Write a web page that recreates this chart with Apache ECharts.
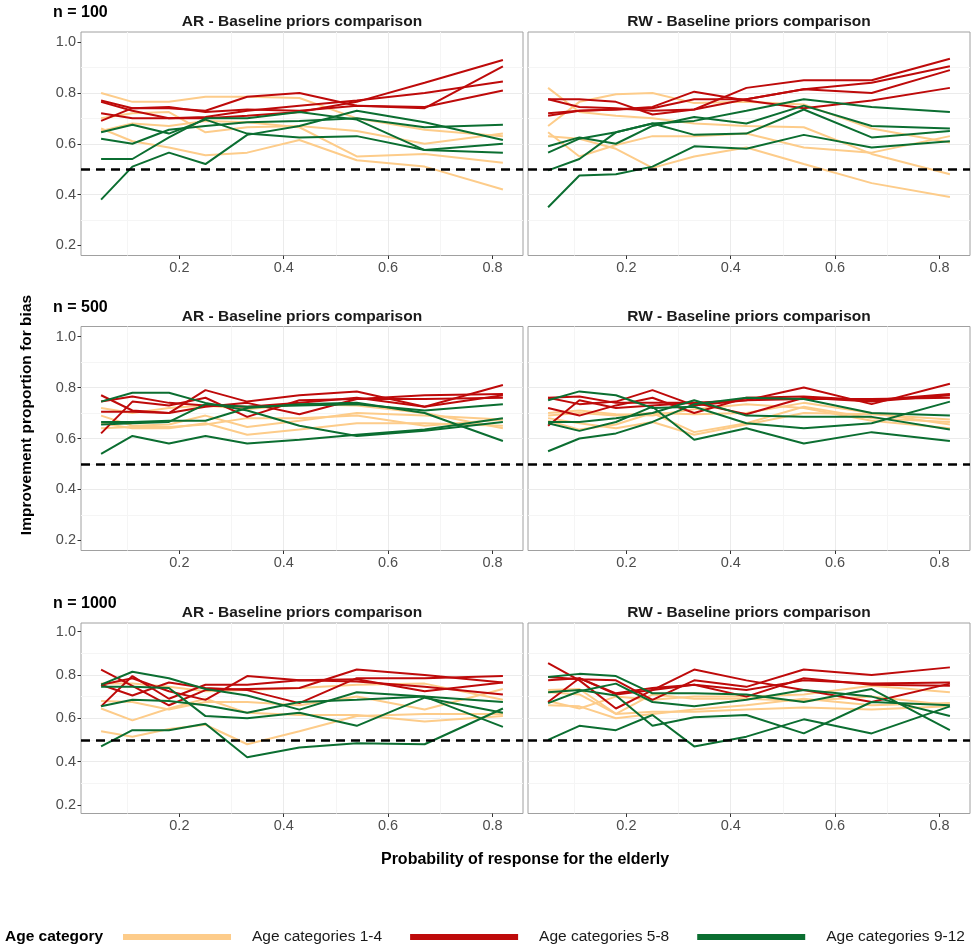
<!DOCTYPE html>
<html>
<head>
<meta charset="utf-8">
<title>Improvement proportion for bias</title>
<script src="https://cdn.jsdelivr.net/npm/echarts@6.0.0/dist/echarts.min.js"></script>
<style>
  html, body { margin: 0; padding: 0; background: #fff; }
  #chart { width: 975px; height: 948px; }
</style>
</head>
<body>
<div id="chart"></div>
<script>
// x positions: probability of response for the elderly
const xProb = [0.05, 0.11, 0.18, 0.25, 0.33, 0.43, 0.54, 0.67, 0.82];
const xTickValues = [0.2, 0.4, 0.6, 0.8];
const yTickValues = [0.2, 0.4, 0.6, 0.8, 1.0];
const refLevel = 0.5;

const groupNames = ['Age categories 1-4', 'Age categories 5-8', 'Age categories 9-12'];
const groupColors = ['#FDCC8A', '#BE0A0A', '#0B6E31'];
const rowLabels = ['n = 100', 'n = 500', 'n = 1000'];
const colTitles = ['AR - Baseline priors comparison', 'RW - Baseline priors comparison'];

// AR, n = 100
const ar100_age1to4 = [
    [0.80, 0.765, 0.765, 0.785, 0.785, 0.78, 0.70, 0.655, 0.63],
    [0.66, 0.61, 0.585, 0.555, 0.565, 0.615, 0.535, 0.51, 0.42],
    [0.70, 0.72, 0.725, 0.645, 0.665, 0.67, 0.65, 0.60, 0.64],
    [0.65, 0.68, 0.67, 0.69, 0.685, 0.665, 0.55, 0.56, 0.525]
];
const ar100_age5to8 = [
    [0.77, 0.74, 0.74, 0.73, 0.785, 0.80, 0.75, 0.74, 0.905],
    [0.765, 0.73, 0.70, 0.70, 0.71, 0.725, 0.765, 0.84, 0.93],
    [0.72, 0.70, 0.70, 0.705, 0.73, 0.75, 0.77, 0.80, 0.845],
    [0.69, 0.74, 0.745, 0.725, 0.735, 0.73, 0.75, 0.745, 0.81]
];
const ar100_age9to12 = [
    [0.38, 0.51, 0.565, 0.52, 0.635, 0.67, 0.73, 0.685, 0.615],
    [0.54, 0.54, 0.625, 0.70, 0.70, 0.725, 0.695, 0.575, 0.60],
    [0.62, 0.60, 0.655, 0.67, 0.685, 0.69, 0.70, 0.665, 0.675],
    [0.645, 0.675, 0.64, 0.695, 0.64, 0.625, 0.63, 0.575, 0.565]
];

// RW, n = 100
const rw100_age1to4 = [
    [0.82, 0.725, 0.71, 0.70, 0.68, 0.67, 0.665, 0.56, 0.48],
    [0.67, 0.765, 0.795, 0.80, 0.76, 0.765, 0.755, 0.66, 0.605],
    [0.645, 0.55, 0.595, 0.63, 0.63, 0.64, 0.585, 0.565, 0.63],
    [0.63, 0.62, 0.58, 0.505, 0.55, 0.585, 0.52, 0.445, 0.39]
];
const rw100_age5to8 = [
    [0.775, 0.775, 0.765, 0.715, 0.735, 0.775, 0.815, 0.84, 0.905],
    [0.72, 0.73, 0.735, 0.745, 0.805, 0.77, 0.74, 0.77, 0.82],
    [0.775, 0.745, 0.74, 0.73, 0.735, 0.82, 0.85, 0.85, 0.935],
    [0.71, 0.73, 0.735, 0.74, 0.775, 0.775, 0.815, 0.80, 0.89]
];
const rw100_age9to12 = [
    [0.35, 0.475, 0.48, 0.51, 0.59, 0.58, 0.635, 0.585, 0.61],
    [0.495, 0.54, 0.645, 0.68, 0.635, 0.64, 0.735, 0.625, 0.65],
    [0.59, 0.625, 0.60, 0.67, 0.705, 0.68, 0.75, 0.67, 0.66],
    [0.565, 0.62, 0.645, 0.68, 0.69, 0.73, 0.775, 0.745, 0.725]
];

// AR, n = 500
const ar500_age1to4 = [
    [0.69, 0.65, 0.655, 0.69, 0.645, 0.67, 0.70, 0.69, 0.675],
    [0.66, 0.64, 0.64, 0.66, 0.615, 0.635, 0.66, 0.66, 0.65],
    [0.64, 0.645, 0.645, 0.655, 0.68, 0.68, 0.69, 0.65, 0.675],
    [0.72, 0.70, 0.72, 0.73, 0.715, 0.735, 0.73, 0.70, 0.64]
];
const ar500_age5to8 = [
    [0.77, 0.71, 0.70, 0.79, 0.745, 0.77, 0.785, 0.725, 0.81],
    [0.62, 0.745, 0.73, 0.76, 0.685, 0.75, 0.755, 0.755, 0.76],
    [0.705, 0.705, 0.70, 0.725, 0.74, 0.695, 0.755, 0.77, 0.775],
    [0.745, 0.765, 0.74, 0.73, 0.725, 0.74, 0.76, 0.725, 0.77]
];
const ar500_age9to12 = [
    [0.54, 0.61, 0.58, 0.61, 0.58, 0.595, 0.615, 0.635, 0.68],
    [0.745, 0.78, 0.78, 0.74, 0.71, 0.65, 0.61, 0.63, 0.665],
    [0.665, 0.665, 0.67, 0.67, 0.72, 0.735, 0.74, 0.70, 0.59],
    [0.655, 0.66, 0.665, 0.735, 0.725, 0.73, 0.735, 0.71, 0.735]
];

// RW, n = 500
const rw500_age1to4 = [
    [0.69, 0.70, 0.69, 0.70, 0.625, 0.66, 0.725, 0.68, 0.665],
    [0.68, 0.66, 0.64, 0.665, 0.615, 0.655, 0.70, 0.695, 0.675],
    [0.67, 0.635, 0.655, 0.70, 0.695, 0.70, 0.74, 0.70, 0.655],
    [0.70, 0.71, 0.695, 0.69, 0.715, 0.735, 0.72, 0.67, 0.64]
];
const rw500_age5to8 = [
    [0.76, 0.735, 0.745, 0.79, 0.73, 0.75, 0.80, 0.735, 0.815],
    [0.72, 0.69, 0.73, 0.76, 0.70, 0.76, 0.765, 0.75, 0.775],
    [0.65, 0.75, 0.72, 0.73, 0.74, 0.695, 0.76, 0.745, 0.77],
    [0.76, 0.765, 0.74, 0.74, 0.74, 0.75, 0.755, 0.755, 0.76]
];
const rw500_age9to12 = [
    [0.55, 0.60, 0.62, 0.665, 0.735, 0.76, 0.755, 0.70, 0.69],
    [0.66, 0.63, 0.665, 0.725, 0.595, 0.64, 0.58, 0.625, 0.59],
    [0.75, 0.785, 0.77, 0.72, 0.725, 0.66, 0.64, 0.66, 0.745],
    [0.665, 0.665, 0.68, 0.70, 0.75, 0.69, 0.685, 0.685, 0.635]
];

// AR, n = 1000
const ar1000_age1to4 = [
    [0.54, 0.515, 0.55, 0.57, 0.48, 0.54, 0.61, 0.62, 0.62],
    [0.645, 0.59, 0.645, 0.69, 0.625, 0.615, 0.615, 0.585, 0.61],
    [0.68, 0.675, 0.64, 0.675, 0.675, 0.66, 0.70, 0.64, 0.735],
    [0.76, 0.76, 0.745, 0.725, 0.73, 0.74, 0.755, 0.76, 0.685]
];
const ar1000_age5to8 = [
    [0.825, 0.75, 0.66, 0.73, 0.735, 0.74, 0.825, 0.80, 0.765],
    [0.655, 0.795, 0.69, 0.755, 0.755, 0.775, 0.77, 0.745, 0.71],
    [0.755, 0.785, 0.725, 0.685, 0.795, 0.775, 0.78, 0.725, 0.765],
    [0.755, 0.705, 0.765, 0.74, 0.73, 0.67, 0.785, 0.785, 0.795]
];
const ar1000_age9to12 = [
    [0.47, 0.545, 0.545, 0.575, 0.42, 0.465, 0.485, 0.48, 0.645],
    [0.655, 0.685, 0.68, 0.66, 0.625, 0.675, 0.685, 0.70, 0.675],
    [0.755, 0.815, 0.785, 0.735, 0.705, 0.64, 0.72, 0.70, 0.56],
    [0.745, 0.745, 0.74, 0.61, 0.60, 0.625, 0.565, 0.695, 0.625]
];

// RW, n = 1000
const rw1000_age1to4 = [
    [0.72, 0.71, 0.62, 0.63, 0.63, 0.64, 0.65, 0.64, 0.655],
    [0.66, 0.655, 0.60, 0.62, 0.64, 0.66, 0.69, 0.66, 0.67],
    [0.68, 0.645, 0.70, 0.685, 0.70, 0.70, 0.71, 0.75, 0.72],
    [0.73, 0.735, 0.62, 0.71, 0.69, 0.69, 0.68, 0.70, 0.66]
];
const rw1000_age5to8 = [
    [0.855, 0.775, 0.645, 0.73, 0.755, 0.70, 0.785, 0.755, 0.75],
    [0.775, 0.785, 0.71, 0.73, 0.825, 0.775, 0.73, 0.675, 0.76],
    [0.79, 0.78, 0.775, 0.685, 0.775, 0.745, 0.825, 0.80, 0.835],
    [0.675, 0.785, 0.715, 0.74, 0.755, 0.73, 0.775, 0.76, 0.765]
];
const rw1000_age9to12 = [
    [0.50, 0.565, 0.545, 0.615, 0.47, 0.515, 0.595, 0.53, 0.655],
    [0.67, 0.725, 0.76, 0.675, 0.655, 0.685, 0.73, 0.70, 0.61],
    [0.79, 0.805, 0.795, 0.715, 0.715, 0.71, 0.675, 0.735, 0.545],
    [0.72, 0.73, 0.705, 0.565, 0.605, 0.615, 0.53, 0.675, 0.66]
];

// panels in row-major order: [AR, RW] x [100, 500, 1000]
const panels = [
    [ar100_age1to4, ar100_age5to8, ar100_age9to12],
    [rw100_age1to4, rw100_age5to8, rw100_age9to12],
    [ar500_age1to4, ar500_age5to8, ar500_age9to12],
    [rw500_age1to4, rw500_age5to8, rw500_age9to12],
    [ar1000_age1to4, ar1000_age5to8, ar1000_age9to12],
    [rw1000_age1to4, rw1000_age5to8, rw1000_age9to12]
];

// layout (pixels)
const colBoxes = [{ left: 81, width: 442 }, { left: 528, width: 442 }];
const rowBoxes = [{ top: 32, height: 223.5 }, { top: 326.5, height: 224 }, { top: 623, height: 190.5 }];
const FONT = '"Liberation Sans", Arial, Helvetica, sans-serif';

const chart = echarts.init(document.getElementById('chart'));

const grids = [];
const xAxes = [];
const yAxes = [];
const titles = [];
const series = [];

for (let r = 0; r < 3; r++) {
    titles.push({
        text: rowLabels[r],
        left: 53,
        top: rowBoxes[r].top - 27,
        padding: 0,
        textStyle: { fontFamily: FONT, fontSize: 16, fontWeight: 'bold', color: '#000' }
    });
    for (let c = 0; c < 2; c++) {
        const p = r * 2 + c;
        grids.push({
            left: colBoxes[c].left,
            width: colBoxes[c].width,
            top: rowBoxes[r].top,
            height: rowBoxes[r].height,
            show: true,
            backgroundColor: '#fff',
            borderColor: '#A0A0A0',
            borderWidth: 1,
            containLabel: false
        });
        titles.push({
            text: colTitles[c],
            left: colBoxes[c].left + colBoxes[c].width / 2,
            textAlign: 'center',
            top: rowBoxes[r].top - 18,
            padding: 0,
            textStyle: { fontFamily: FONT, fontSize: 15.5, fontWeight: 'bold', color: '#1a1a1a' }
        });
        xAxes.push({
            type: 'value',
            gridIndex: p,
            min: 0.0115,
            max: 0.8585,
            minInterval: 0.2,
            maxInterval: 0.2,
            axisLine: { show: false },
            axisTick: { show: true, customValues: xTickValues, length: 3.5, lineStyle: { color: '#333' } },
            axisLabel: {
                customValues: xTickValues,
                margin: 5,
                color: '#4D4D4D',
                fontFamily: FONT,
                fontSize: 14.5,
                formatter: v => v.toFixed(1)
            },
            splitLine: { show: true, showMinLine: false, showMaxLine: false, lineStyle: { color: '#EBEBEB', width: 1 } },
            minorTick: { show: false, splitNumber: 2 },
            minorSplitLine: { show: true, lineStyle: { color: '#F5F5F5', width: 1 } }
        });
        yAxes.push({
            type: 'value',
            gridIndex: p,
            min: 0.16,
            max: 1.04,
            minInterval: 0.2,
            maxInterval: 0.2,
            axisLine: { show: false },
            axisTick: { show: c === 0, customValues: yTickValues, length: 3.5, lineStyle: { color: '#333' } },
            axisLabel: {
                show: c === 0,
                customValues: yTickValues,
                margin: 5,
                color: '#4D4D4D',
                fontFamily: FONT,
                fontSize: 14.5,
                formatter: v => v.toFixed(1)
            },
            splitLine: { show: true, showMinLine: false, showMaxLine: false, lineStyle: { color: '#EBEBEB', width: 1 } },
            minorTick: { show: false, splitNumber: 2 },
            minorSplitLine: { show: true, lineStyle: { color: '#F5F5F5', width: 1 } }
        });

        panels[p].forEach(function (groupLines, g) {
            groupLines.forEach(function (vals) {
                series.push({
                    type: 'line',
                    name: groupNames[g],
                    xAxisIndex: p,
                    yAxisIndex: p,
                    data: xProb.map((x, i) => [x, vals[i]]),
                    symbol: 'none',
                    color: groupColors[g],
                    lineStyle: { color: groupColors[g], width: 2 },
                    z: 2 + g,
                    silent: true,
                    animation: false
                });
            });
        });

        // dashed reference line at 0.5
        series.push({
            type: 'line',
            name: 'reference',
            xAxisIndex: p,
            yAxisIndex: p,
            data: [],
            z: 10,
            silent: true,
            animation: false,
            markLine: {
                silent: true,
                symbol: 'none',
                label: { show: false },
                lineStyle: { color: '#000', type: [9, 6], width: 2.5 },
                data: [{ yAxis: refLevel }],
                animation: false
            }
        });
    }
}

const option = {
    backgroundColor: '#fff',
    animation: false,
    textStyle: { fontFamily: FONT },
    title: titles,
    grid: grids,
    xAxis: xAxes,
    yAxis: yAxes,
    legend: {
        data: groupNames,
        left: 123,
        top: 929,
        padding: 0,
        icon: 'rect',
        itemWidth: 108,
        itemHeight: 6,
        itemGap: 28,
        selectedMode: false,
        textStyle: { fontFamily: FONT, fontSize: 15.5, color: '#1a1a1a', padding: [0, 0, 0, 16] }
    },
    graphic: [
        {
            type: 'text',
            x: 27,
            y: 415,
            rotation: Math.PI / 2,
            style: {
                text: 'Improvement proportion for bias',
                fill: '#000',
                font: 'bold 15.5px ' + FONT,
                align: 'center',
                verticalAlign: 'middle'
            }
        },
        {
            type: 'text',
            x: 525,
            y: 860,
            style: {
                text: 'Probability of response for the elderly',
                fill: '#000',
                font: 'bold 16px ' + FONT,
                align: 'center',
                verticalAlign: 'middle'
            }
        },
        {
            type: 'text',
            x: 5,
            y: 937,
            style: {
                text: 'Age category',
                fill: '#000',
                font: 'bold 15.5px ' + FONT,
                align: 'left',
                verticalAlign: 'middle'
            }
        }
    ],
    series: series
};

chart.setOption(option);
</script>
</body>
</html>
